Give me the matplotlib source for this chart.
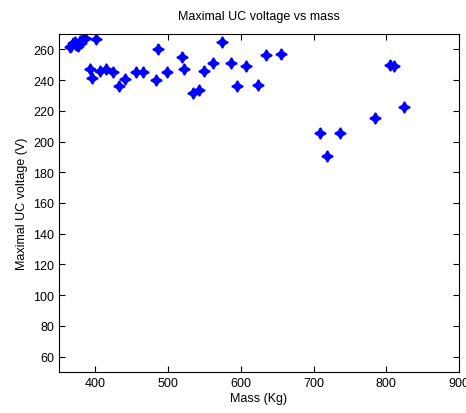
import matplotlib
matplotlib.use("Agg")
import matplotlib.pyplot as plt

# Mass (Kg) and maximal UC voltage (V)
mass = [364.7, 367, 369, 371.6, 373, 376, 378.5, 380, 382, 384.4, 386, 401.5,
        392.2, 396, 406, 415.2, 424.3, 432.6, 440.4, 456.5, 465.6, 483.1, 498.6,
        486.2, 519.3, 522, 534.4, 542.6, 549.5, 562, 574.3, 586.7, 595, 607.3,
        623.9, 634.8, 654.7, 708.8, 718.4, 736.3, 784.5, 805, 810.6, 824.3]
voltage = [261.4, 262.4, 264, 264.6, 263, 262.4, 265.7, 264, 266, 266.8, 267.5, 266.8,
           247.3, 241.2, 246.2, 247.3, 245.1, 236.4, 240.8, 245.1, 245.1, 240.3, 245.1,
           260.3, 255.3, 247.3, 231.4, 233.6, 245.8, 251, 264.6, 251, 236.2, 249,
           236.8, 256.4, 257, 205.4, 190.6, 205.4, 215.2, 250, 249.4, 222.7]

plt.rcParams['font.family'] = ['Liberation Sans', 'DejaVu Sans']

fig = plt.figure(figsize=(4.66, 4.14), dpi=100)
ax = fig.add_axes([0.1266, 0.099, 0.8584, 0.8165])

ax.plot(mass, voltage, linestyle='none', marker=(4, 1, 0), markersize=8,
        color='#0000ff', markeredgewidth=1.2)

ax.set_xlim(350, 900)
ax.set_ylim(50, 270)
ax.set_xticks(range(400, 901, 100))
ax.set_yticks(range(60, 261, 20))
ax.tick_params(direction='in', top=True, right=True, labelsize=9, length=4)

ax.set_title("Maximal UC voltage vs mass", fontsize=9, pad=11)
ax.set_xlabel("Mass (Kg)", fontsize=9, labelpad=2)
ax.set_ylabel("Maximal UC voltage (V)", fontsize=9)

fig.savefig("out.png", dpi=100)
